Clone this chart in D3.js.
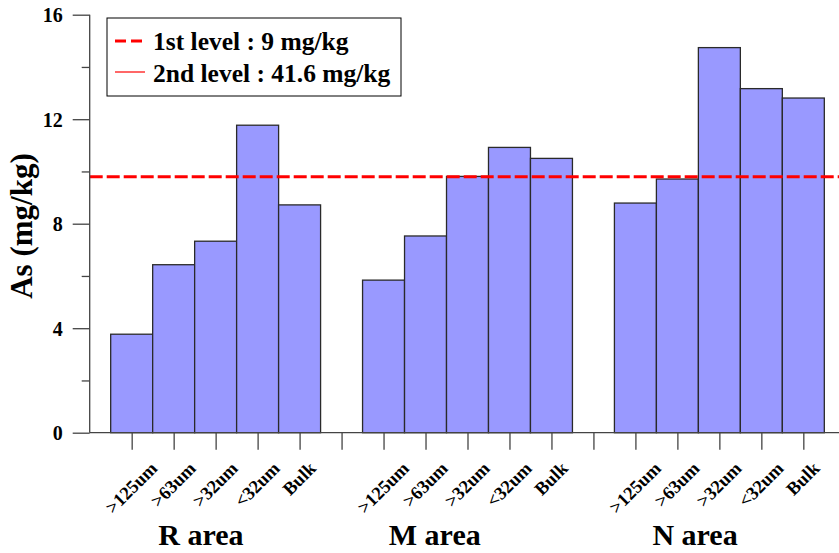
<!DOCTYPE html>
<html>
<head>
<meta charset="utf-8">
<script src="https://cdn.jsdelivr.net/npm/d3@7"></script>
<style>
  html, body { margin: 0; padding: 0; background: #fff; }
  svg { display: block; }
  text { font-family: "Liberation Serif", "Times New Roman", serif; font-weight: bold; fill: #000; }
</style>
</head>
<body>
<svg id="chart" width="839" height="553"></svg>
<script>
// ---- data ----
const areas = ["R area", "M area", "N area"];
const fractions = [">125um", ">63um", ">32um", "<32um", "Bulk"];
const rValues = [3.77, 6.43, 7.33, 11.77, 8.72];
const mValues = [5.84, 7.53, 9.81, 10.92, 10.50];
const nValues = [8.79, 9.71, 14.74, 13.17, 12.81];
const yMajorTicks = [0, 4, 8, 12, 16];
const yMinorTicks = [2, 6, 10, 14];
const level1Value = 9.8;
const legendLabels = ["1st level : 9 mg/kg", "2nd level : 41.6 mg/kg"];
const yLabel = "As (mg/kg)";

const seriesValues = [rValues, mValues, nValues];

// ---- layout ----
const svg = d3.select("#chart");
const x = d3.scaleLinear().domain([0, 18]).range([89.7, 845.3]);
const y = d3.scaleLinear().domain([0, 16]).range([432.7, 14.7]);
const slot = x(1) - x(0);

// group g occupies slots 6g+1 .. 6g+5
const bars = [];
seriesValues.forEach((vals, g) => {
  vals.forEach((v, i) => bars.push({ area: areas[g], frac: fractions[i], value: v, pos: 6 * g + 1 + i }));
});
const tickPositions = d3.range(1, 18);

const axisColor = "#444";
const fontFam = "'Liberation Serif', 'Times New Roman', serif";

// bars
svg.append("g").selectAll("rect").data(bars).join("rect")
  .attr("x", d => x(d.pos - 0.5))
  .attr("y", d => y(d.value))
  .attr("width", slot)
  .attr("height", d => y(0) - y(d.value))
  .attr("fill", "#9999ff")
  .attr("stroke", "#2a2a2a")
  .attr("stroke-width", 1.3);

// level line
svg.append("line")
  .attr("x1", x(0)).attr("x2", 839)
  .attr("y1", y(level1Value)).attr("y2", y(level1Value))
  .attr("stroke", "#ff0000").attr("stroke-width", 3)
  .attr("stroke-dasharray", "13,4");

// y axis
const yAxis = d3.axisLeft(y).tickValues(yMajorTicks).tickSize(17).tickPadding(10).tickFormat(d3.format("d"));
const gy = svg.append("g").attr("transform", `translate(${x(0)},0)`).call(yAxis);
gy.attr("font-family", null).attr("font-size", null);
gy.select(".domain").remove();
gy.append("line").attr("x1", 0).attr("x2", 0).attr("y1", y(16)).attr("y2", y(0))
  .attr("stroke", axisColor).attr("stroke-width", 1.3);
gy.selectAll(".tick line").attr("stroke", axisColor).attr("stroke-width", 1.3);
gy.selectAll(".tick text")
  .style("font-size", "20px").style("font-family", fontFam).style("font-weight", "bold")
  .attr("fill", "#000").attr("dy", "0.34em");
const gyMinor = svg.append("g").attr("transform", `translate(${x(0)},0)`)
  .call(d3.axisLeft(y).tickValues(yMinorTicks).tickSize(8).tickFormat(""));
gyMinor.select(".domain").remove();
gyMinor.selectAll(".tick line").attr("stroke", axisColor).attr("stroke-width", 1.3);

// x axis
const xAxis = d3.axisBottom(x).tickValues(tickPositions).tickSize(17).tickFormat("");
const gx = svg.append("g").attr("transform", `translate(0,${y(0)})`).call(xAxis);
gx.select(".domain").remove();
gx.append("line").attr("x1", x(0)).attr("x2", 839).attr("y1", 0).attr("y2", 0)
  .attr("stroke", axisColor).attr("stroke-width", 1.3);
gx.selectAll(".tick line").attr("stroke", axisColor).attr("stroke-width", 1.3);

// rotated fraction labels (centre under tick, longer labels sit lower)
const fracLabels = svg.append("g").selectAll("text").data(bars).join("text")
  .attr("text-anchor", "middle")
  .style("font-size", "18.5px")
  .text(d => d.frac);
fracLabels.attr("transform", function (d) {
  const len = this.getComputedTextLength();
  return `translate(${x(d.pos) + 4},${y(0) + 36.8 + 0.354 * len}) rotate(-45)`;
});

// area labels
const areaLabelPos = [2.65, 8.22, 14.42];
svg.append("g").selectAll("text").data(areas).join("text")
  .attr("x", (d, i) => x(areaLabelPos[i]))
  .attr("y", 545)
  .attr("text-anchor", "middle")
  .style("font-size", "30px")
  .text(d => d);

// y label
svg.append("text")
  .attr("transform", `translate(32,226) rotate(-90)`)
  .attr("text-anchor", "middle")
  .style("font-size", "31px")
  .text(yLabel);

// legend
const lg = svg.append("g");
lg.append("rect").attr("x", 107).attr("y", 18).attr("width", 294).attr("height", 78)
  .attr("fill", "#fff").attr("stroke", "#000").attr("stroke-width", 1);
lg.append("line").attr("x1", 115).attr("x2", 142).attr("y1", 41).attr("y2", 41)
  .attr("stroke", "#ff0000").attr("stroke-width", 3).attr("stroke-dasharray", "11,5");
lg.append("line").attr("x1", 115).attr("x2", 145).attr("y1", 72).attr("y2", 72)
  .attr("stroke", "#ff0000").attr("stroke-width", 1.2);
lg.selectAll("text.leg").data(legendLabels).join("text")
  .attr("class", "leg")
  .attr("x", 153)
  .attr("y", (d, i) => 50 + i * 32)
  .style("font-size", "25.5px")
  .text(d => d);
</script>
</body>
</html>
